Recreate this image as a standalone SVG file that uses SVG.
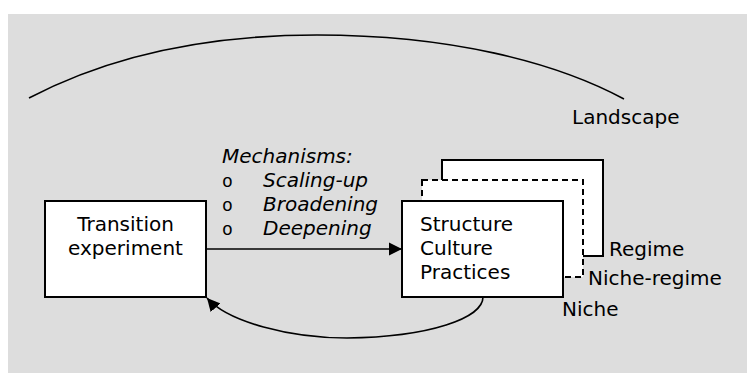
<svg xmlns="http://www.w3.org/2000/svg" width="747" height="373" viewBox="0 0 747 373">
  <style>
    .bg { fill: #dddddd; }
    .box { fill: #ffffff; stroke: #000000; stroke-width: 2; }
    .dash { stroke-dasharray: 6 4; }
    .line { fill: none; stroke: #000000; stroke-width: 1.6; }
    .lbl { font-family: "DejaVu Sans", Verdana, sans-serif; font-size: 20px; fill: #000000; }
    .it { font-style: italic; }
    .bul { font-family: "Liberation Mono", "Courier New", monospace; font-size: 18px; fill: #000000; }
  </style>
  <defs>
    <marker id="arrow" markerUnits="userSpaceOnUse" markerWidth="14" markerHeight="14" viewBox="0 0 14 14" refX="13" refY="7" orient="auto">
      <path d="M0,0.5 L13,7 L0,13.5 Z" fill="#000000"/>
    </marker>
  </defs>

  <!-- backdrop -->
  <rect class="bg" x="8" y="14" width="739" height="359"/>

  <!-- landscape arc and label -->
  <g id="landscape">
    <path class="line" d="M29,98 C90,66 180,35 317,35 C450,35 555,62 624,99"/>
    <text class="lbl" x="572" y="124">Landscape</text>
  </g>

  <!-- stacked levels: regime, niche-regime, niche -->
  <g id="regime">
    <rect class="box" x="442" y="160" width="161" height="96"/>
    <text class="lbl" x="609" y="256">Regime</text>
  </g>
  <g id="niche-regime">
    <rect class="box dash" x="422" y="180" width="161" height="97"/>
    <text class="lbl" x="588" y="285">Niche-regime</text>
  </g>
  <g id="niche">
    <rect class="box" x="402" y="201" width="161" height="96"/>
    <text class="lbl" x="420" y="231">Structure</text>
    <text class="lbl" x="420" y="255">Culture</text>
    <text class="lbl" x="420" y="279">Practices</text>
    <text class="lbl" x="562" y="316">Niche</text>
  </g>

  <!-- transition experiment -->
  <g id="experiment">
    <rect class="box" x="45" y="201" width="161" height="96"/>
    <text class="lbl" x="125.5" y="231" text-anchor="middle">Transition</text>
    <text class="lbl" x="125.5" y="255" text-anchor="middle">experiment</text>
  </g>

  <!-- mechanisms list -->
  <g id="mechanisms">
    <text class="lbl it" x="222" y="163">Mechanisms:</text>
    <text class="bul" x="222" y="187">o</text>
    <text class="lbl it" x="263" y="187">Scaling-up</text>
    <text class="bul" x="222" y="211">o</text>
    <text class="lbl it" x="263" y="211">Broadening</text>
    <text class="bul" x="222" y="235">o</text>
    <text class="lbl it" x="263" y="235">Deepening</text>
  </g>

  <!-- connectors -->
  <g id="connectors">
    <path class="line" d="M206,249 L402,249" marker-end="url(#arrow)"/>
    <path class="line" d="M483,297 C483,318 430,337 347,338 C290,338 228,322 207,298" marker-end="url(#arrow)"/>
  </g>
</svg>
